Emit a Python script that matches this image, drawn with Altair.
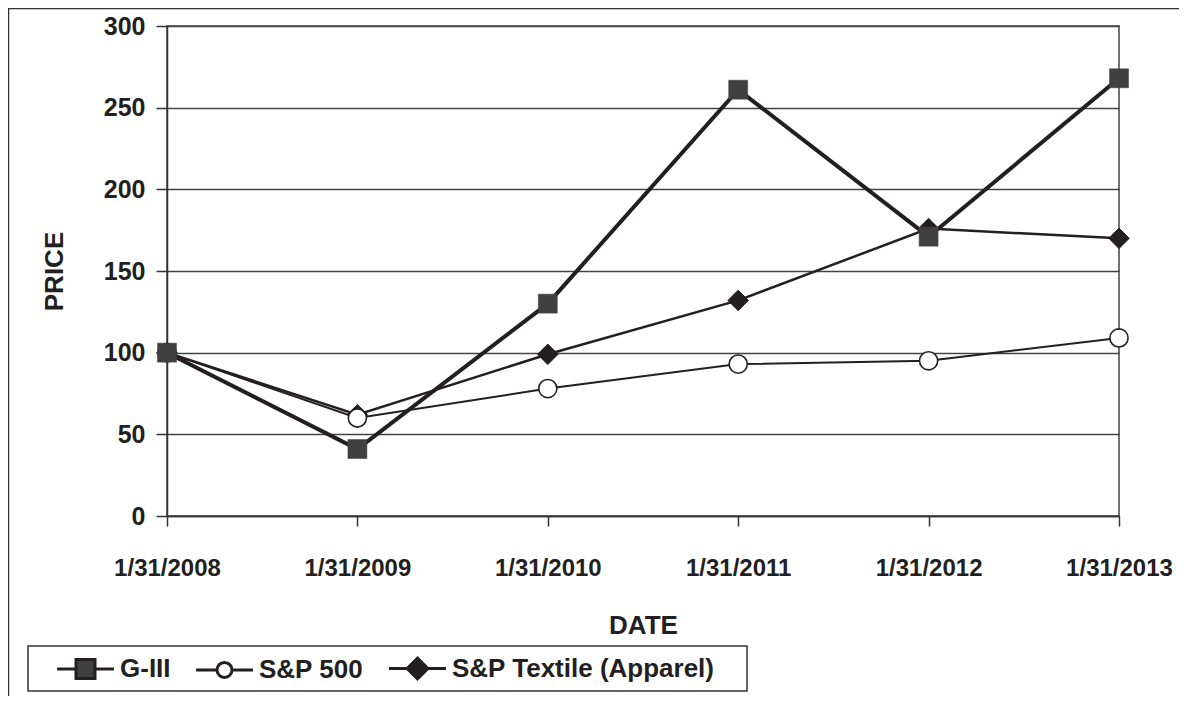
import altair as alt
import pandas as pd

# ---- data ----
dates = ["1/31/2008", "1/31/2009", "1/31/2010", "1/31/2011", "1/31/2012", "1/31/2013"]
series_names = ["G-III", "S&P 500", "S&P Textile (Apparel)"]
g3_values = [100, 41, 130, 261, 171, 268]
sp500_values = [100, 60, 78, 93, 95, 109]
textile_values = [100, 62, 99, 132, 176, 170]
y_ticks = [0, 50, 100, 150, 200, 250, 300]

rows = []
for name, vals in zip(series_names, [g3_values, sp500_values, textile_values]):
    for d, v in zip(dates, vals):
        rows.append({"date": d, "series": name, "value": v})
df = pd.DataFrame(rows)

INK = "#231f20"
GRID = "#444444"
FONT = "Liberation Sans"

x_enc = alt.X(
    "date:O",
    sort=dates,
    scale=alt.Scale(type="point", padding=0),
    axis=alt.Axis(
        title="DATE",
        labelAngle=0,
        labelFontSize=24,
        labelPadding=30,
        tickSize=10,
        grid=False,
        titleFontSize=26,
        titleX=476,
        titleY=109,
        titleAlign="center",
        titleBaseline="middle",
    ),
)
y_enc = alt.Y(
    "value:Q",
    scale=alt.Scale(domain=[0, 300], nice=False, zero=True),
    axis=alt.Axis(
        title="PRICE",
        values=y_ticks,
        grid=True,
        gridColor=GRID,
        gridWidth=1.3,
        tickSize=11,
        labelPadding=11,
        labelFontSize=25,
        titleFontSize=26,
        titleAngle=270,
        titleX=-113,
        titleY=245,
        titleAlign="center",
        titleBaseline="middle",
    ),
)

base = alt.Chart(df).encode(x=x_enc, y=y_enc)

line_widths = {"G-III": 4, "S&P 500": 2, "S&P Textile (Apparel)": 2.5}
draw_order = ["S&P Textile (Apparel)", "S&P 500", "G-III"]

line_layers = [
    base.transform_filter(alt.datum.series == name).mark_line(
        color=INK, strokeWidth=line_widths[name]
    )
    for name in draw_order
]

marker_specs = {
    "S&P Textile (Apparel)": dict(shape="diamond", size=420, fill=INK, stroke=INK, strokeWidth=1),
    "S&P 500": dict(shape="circle", size=330, fill="white", stroke=INK, strokeWidth=1.6),
    "G-III": dict(shape="square", size=361, fill="#404040", stroke="#404040", strokeWidth=0.5),
}
marker_layers = [
    base.transform_filter(alt.datum.series == name).mark_point(
        filled=True, opacity=1, **marker_specs[name]
    )
    for name in draw_order
]

# outer frame (top and left edges visible in the reference)
one = pd.DataFrame({"k": [0]})
frame_left = alt.Chart(one).mark_rule(color="#333333", strokeWidth=1.5).encode(
    x=alt.value(-158.5), y=alt.value(-18), y2=alt.value(700)
)
frame_top = alt.Chart(one).mark_rule(color="#333333", strokeWidth=1.5).encode(
    x=alt.value(-159), x2=alt.value(1028), y=alt.value(-17.5)
)
legend_box = alt.Chart(one).mark_rect(
    fill="white", fillOpacity=0, stroke="#333333", strokeWidth=1.5
).encode(x=alt.value(-139), x2=alt.value(580), y=alt.value(620), y2=alt.value(665))

# legend symbols: line with marker
legend_paths = [
    "M-2.19,0H-0.73M0.73,0H2.19M-0.73,-0.73H0.73V0.73H-0.73Z",
    "M-2.19,0H-0.58M0.58,0H2.19M0.58,0A0.58,0.58,0,1,1,-0.58,0A0.58,0.58,0,1,1,0.58,0Z",
    "M-2.19,0H-0.8M0.8,0H2.19M-0.8,0L0,-0.8L0.8,0L0,0.8Z",
]
legend_fills = ["#404040", "white", INK]

leg = alt.Legend(
    title=None,
    orient="none",
    legendX=-96,
    legendY=628,
    direction="horizontal",
    columns=3,
    padding=0,
    symbolSize=676,
    symbolStrokeColor=INK,
    symbolStrokeWidth=3,
    labelFont=FONT,
    labelFontSize=26,
    labelFontWeight="bold",
    labelColor=INK,
    labelOffset=20,
    labelLimit=500,
    columnPadding=19,
)
legend_layer = alt.Chart(df[df["date"] == dates[0]]).mark_point(
    filled=True, clip=True, stroke=INK, strokeWidth=3, opacity=1, size=676
).encode(
    x=alt.value(-2000),
    y=alt.value(-2000),
    color=alt.Color("series:N", scale=alt.Scale(domain=series_names, range=legend_fills), legend=leg),
    shape=alt.Shape("series:N", scale=alt.Scale(domain=series_names, range=legend_paths), legend=leg),
)

chart = (
    alt.layer(frame_left, frame_top, legend_box, *line_layers, *marker_layers, legend_layer)
    .properties(
        width=952,
        height=490,
        autosize=alt.AutoSizeParams(type="none"),
        padding={"left": 159, "top": 18, "right": 60, "bottom": 180},
        background="white",
    )
    .configure_view(stroke=GRID, strokeWidth=1.5)
    .configure_axis(
        labelFont=FONT,
        labelFontWeight="bold",
        labelColor=INK,
        titleFont=FONT,
        titleFontWeight="bold",
        titleColor=INK,
        domainColor="#333333",
        domainWidth=1.5,
        tickColor="#333333",
        tickWidth=1.5,
    )
)

chart.save("out.html", embed_options={"renderer": "svg", "actions": False})
